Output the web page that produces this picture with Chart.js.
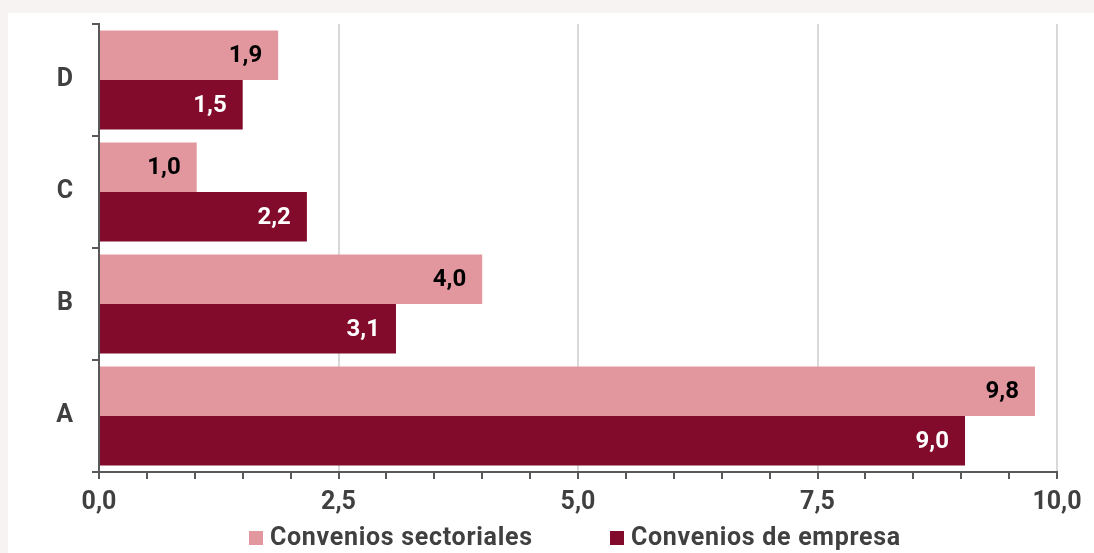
<!DOCTYPE html>
<html>
<head>
<meta charset="utf-8">
<script src="https://cdn.jsdelivr.net/npm/chart.js@4.4.1/dist/chart.umd.min.js"></script>
<style>
    html, body { margin: 0; padding: 0; background: #F7F3F2; }
    #wrap { position: relative; width: 1094px; height: 553px; }
    #legend { position: absolute; left: 0; top: 523px; width: 1094px; height: 28px;
        font-family: Roboto, sans-serif; font-weight: bold; font-size: 25px; letter-spacing: 0.7px; color: #404040; }
    .item { position: absolute; top: 0; white-space: nowrap; line-height: 28px; }
    .box { display: inline-block; width: 14px; height: 14px; margin-right: 7px; vertical-align: 0px; }
</style>
</head>
<body>
<div id="wrap">
    <canvas id="chart" width="1094" height="553"></canvas>
    <div id="legend"></div>
</div>
<script>
// Data
const categories = ['D', 'C', 'B', 'A'];
const seriesNames = ['Convenios sectoriales', 'Convenios de empresa'];
const sectoriales = [1.87, 1.02, 4.0, 9.77];
const empresa = [1.50, 2.17, 3.10, 9.04];
const xTicks = [0, 2.5, 5, 7.5, 10];

const colors = ['#E2979F', '#820A2A'];
const labelColors = ['#000000', '#FFFFFF'];
const textGray = '#404040';
const axisGray = '#595959';
const FONT = 'Roboto, sans-serif';

const fmt = v => v.toFixed(1).replace('.', ',');

// Page background with white panel
const panelBg = {
    id: 'panelBg',
    beforeDraw(chart) {
        const c = chart.ctx;
        c.save();
        c.fillStyle = '#F7F3F2';
        c.fillRect(0, 0, chart.width, chart.height);
        c.fillStyle = '#FFFFFF';
        c.fillRect(8, 13, chart.width - 8, chart.height - 13);
        c.restore();
    }
};

// Value labels inside bar ends
const barLabels = {
    id: 'barLabels',
    afterDatasetsDraw(chart) {
        const c = chart.ctx;
        c.save();
        c.font = 'bold 24px ' + FONT;
        c.textAlign = 'right';
        c.textBaseline = 'middle';
        chart.data.datasets.forEach((ds, i) => {
            const meta = chart.getDatasetMeta(i);
            c.fillStyle = labelColors[i];
            meta.data.forEach((bar, j) => {
                c.fillText(fmt(ds.data[j]), bar.x - 16, bar.y + 1);
            });
        });
        c.restore();
    }
};

const chart = new Chart(document.getElementById('chart'), {
    type: 'bar',
    data: {
        labels: categories,
        datasets: [
            { label: seriesNames[0], data: sectoriales, backgroundColor: colors[0] },
            { label: seriesNames[1], data: empresa, backgroundColor: colors[1] }
        ]
    },
    options: {
        indexAxis: 'y',
        responsive: false,
        animation: false,
        categoryPercentage: 0.885,
        barPercentage: 1.0,
        layout: {
            padding: { top: 24, right: 37, bottom: 33, left: 0 }
        },
        plugins: {
            legend: { display: false },
            tooltip: { enabled: false }
        },
        scales: {
            x: {
                min: 0,
                max: 10,
                afterFit(scale) {
                    scale.height = 48;
                    scale.paddingLeft = 0;
                    scale.paddingRight = 0;
                },
                afterBuildTicks(scale) {
                    const t = [];
                    for (let v = 0; v <= 10.001; v += 0.5) t.push({ value: Math.round(v * 10) / 10 });
                    scale.ticks = t;
                },
                border: { color: axisGray, width: 2 },
                grid: {
                    color: ctx => (ctx.tick && ctx.tick.value > 0 && xTicks.includes(ctx.tick.value)) ? '#D9D9D9' : 'rgba(0,0,0,0)',
                    lineWidth: 2,
                    tickColor: axisGray,
                    tickLength: 7
                },
                ticks: {
                    autoSkip: false,
                    maxRotation: 0,
                    padding: 9,
                    color: textGray,
                    font: { family: FONT, size: 25, weight: 'bold' },
                    callback: v => xTicks.includes(v) ? fmt(v) : ''
                }
            },
            y: {
                afterFit(scale) {
                    scale.width = 99;
                    scale.paddingTop = 0;
                    scale.paddingBottom = 0;
                },
                border: { color: axisGray, width: 2 },
                grid: {
                    offset: true,
                    drawOnChartArea: false,
                    color: axisGray,
                    lineWidth: 2,
                    tickLength: 7
                },
                ticks: {
                    padding: 19,
                    color: textGray,
                    font: { family: FONT, size: 25, weight: 'bold' }
                }
            }
        }
    },
    plugins: [panelBg, barLabels]
});

// HTML legend below the chart
const legendLeft = [249, 610];
const legendEl = document.getElementById('legend');
seriesNames.forEach((name, i) => {
    const item = document.createElement('div');
    item.className = 'item';
    item.style.left = legendLeft[i] + 'px';
    item.innerHTML = '<span class="box" style="background:' + colors[i] + '"></span>' + name;
    legendEl.appendChild(item);
});
</script>
</body>
</html>
